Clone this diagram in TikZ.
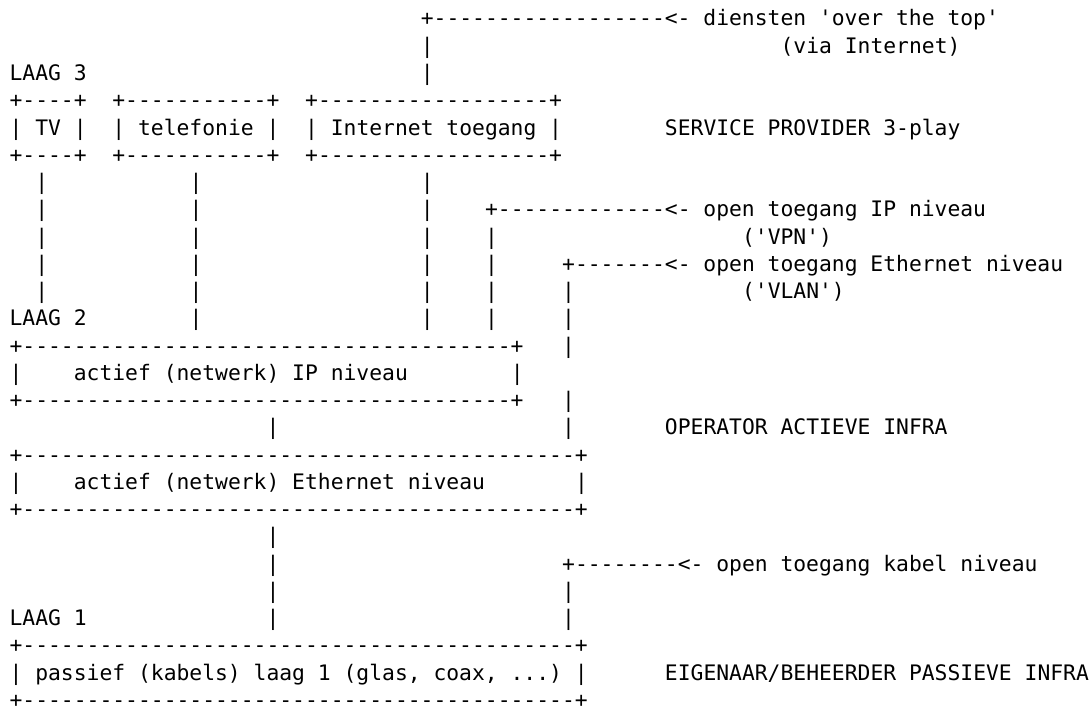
\documentclass[tikz,border=0pt]{standalone}
\usepackage{fontspec}
\setmonofont{DejaVu Sans Mono}
\usepackage{tikz}

% run of n dashes
\newcommand\hrun[1]{\foreach \k in {1,...,#1}{-}}

\begin{document}
\begin{tikzpicture}[x=12.85pt, y=-27.25pt,
  asc/.style={anchor=base west, inner sep=0pt, outer sep=0pt,
    font=\ttfamily\fontsize{21.34pt}{27pt}\selectfont}]
\path[use as bounding box, fill=white] (-9.6pt,26pt) rectangle (1081.4pt,-683pt);

% Laag 3: diensten over the top
\node[asc] (ott) at (32,0) {+\hrun{18}<- diensten 'over the top'};
\node[asc] (via) at (60,1) {(via Internet)};
\node[asc] (laag3) at (0,2) {LAAG 3};

% Service boxes
\node[asc] (tvtop) at (0,3) {+\hrun{4}+};
\node[asc] (teltop) at (8,3) {+\hrun{11}+};
\node[asc] (inettop) at (23,3) {+\hrun{18}+};
\node[asc] (tv) at (0,4) {| TV |};
\node[asc] (tel) at (8,4) {| telefonie |};
\node[asc] (inet) at (23,4) {| Internet toegang |};
\node[asc] (sp) at (51,4) {SERVICE PROVIDER 3-play};
\node[asc] (tvbot) at (0,5) {+\hrun{4}+};
\node[asc] (telbot) at (8,5) {+\hrun{11}+};
\node[asc] (inetbot) at (23,5) {+\hrun{18}+};

% Open toegang IP / Ethernet
\node[asc] (ipacc) at (37,7) {+\hrun{13}<- open toegang IP niveau};
\node[asc] (vpn) at (57,8) {('VPN')};
\node[asc] (ethacc) at (43,9) {+\hrun{7}<- open toegang Ethernet niveau};
\node[asc] (vlan) at (57,10) {('VLAN')};

% Laag 2: actieve infra
\node[asc] (laag2) at (0,11) {LAAG 2};
\node[asc] (iptop) at (0,12) {+\hrun{38}+};
\node[asc] (ipl) at (0,13) {|};
\node[asc] (ip) at (5,13) {actief (netwerk) IP niveau};
\node[asc] (ipr) at (39,13) {|};
\node[asc] (ipbot) at (0,14) {+\hrun{38}+};
\node[asc] (op) at (51,15) {OPERATOR ACTIEVE INFRA};
\node[asc] (ethtop) at (0,16) {+\hrun{43}+};
\node[asc] (ethl) at (0,17) {|};
\node[asc] (eth) at (5,17) {actief (netwerk) Ethernet niveau};
\node[asc] (ethr) at (44,17) {|};
\node[asc] (ethbot) at (0,18) {+\hrun{43}+};

% Laag 1: passieve infra
\node[asc] (kabacc) at (43,20) {+\hrun{8}<- open toegang kabel niveau};
\node[asc] (laag1) at (0,22) {LAAG 1};
\node[asc] (pastop) at (0,23) {+\hrun{43}+};
\node[asc] (pas) at (0,24) {| passief (kabels) laag 1 (glas, coax, ...) |};
\node[asc] (eig) at (51,24) {EIGENAAR/BEHEERDER PASSIEVE INFRA};
\node[asc] (pasbot) at (0,25) {+\hrun{43}+};

% vertical bars (column/from/to)
\foreach \c/\a/\b in {32/1/2, 2/6/10, 14/6/11, 32/6/11, 37/8/11, 43/10/12,
    43/14/15, 20/15/15, 20/19/22, 43/21/22}
  \foreach \r in {\a,...,\b}
    \node[asc] (bar\c-\r) at (\c,\r) {|};
\end{tikzpicture}
\end{document}
